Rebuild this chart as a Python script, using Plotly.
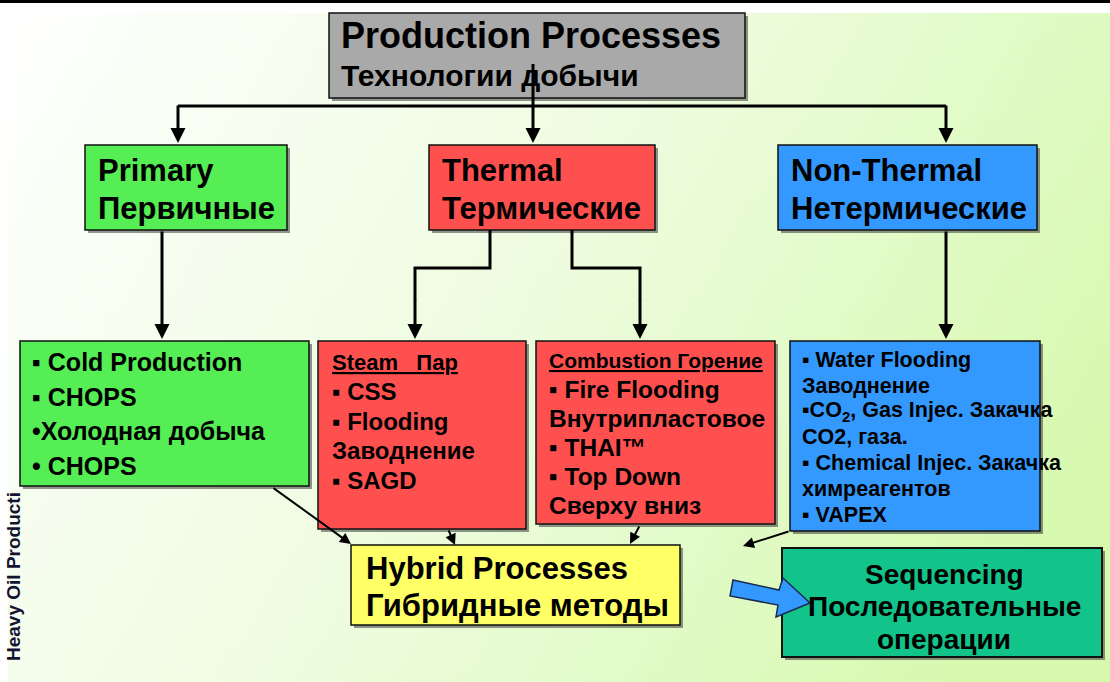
import numpy as np
import plotly.graph_objects as go

# ---------------- content ----------------
TITLE = ["Production Processes", "Технологии добычи"]
CATEGORIES = ["Primary", "Thermal", "Non-Thermal"]
CATEGORIES_RU = ["Первичные", "Термические", "Нетермические"]
PRIMARY_ITEMS = ["▪ Cold Production", "▪ CHOPS", "•Холодная добыча", "• CHOPS"]
STEAM_ITEMS = ["<span style='text-decoration:underline'>Steam   Пар</span>",
               "▪ CSS", "▪ Flooding", "Заводнение", "▪ SAGD"]
COMBUSTION_ITEMS = ["<span style='text-decoration:underline'>Combustion Горение</span>",
                    "▪ Fire Flooding", "Внутрипластовое", "▪ THAI™", "▪ Top Down", "Сверху вниз"]
NONTHERMAL_ITEMS = ["▪ Water Flooding", "Заводнение", "▪CO<sub>2</sub>, Gas Injec. Закачка",
                    "CO2, газа.", "▪ Chemical Injec. Закачка", "химреагентов", "▪ VAPEX"]
HYBRID = ["Hybrid Processes", "Гибридные методы"]
SEQUENCING = ["Sequencing", "Последовательные", "операции"]
SIDE_LABEL = "Heavy Oil Producti"

# ---------------- styles ----------------
W, H = 1110, 682
GRAY, GREEN, RED, BLUE = "#a9a9a9", "#55ee55", "#ff5050", "#3399ff"
YELLOW, TEAL = "#ffff66", "#12c48a"
FONT = "Liberation Sans, Arial, sans-serif"

fig = go.Figure()

# background gradient (white -> light green)
gx = np.linspace(0, W, 120)
gy = np.linspace(0, H, 80)
GX, GY = np.meshgrid(gx, gy)
gz = np.clip(0.8 * GX / W + 0.3 * GY / H, 0, 1)
fig.add_trace(go.Heatmap(x=gx, y=gy, z=gz, showscale=False, hoverinfo="skip",
                         colorscale=[[0, "#ffffff"], [0.5, "#eefce0"], [1, "#d6f9ae"]]))

shapes = []
annotations = []

# white frame strips and black top bar
shapes.append(dict(type="rect", x0=0, x1=W, y0=0, y1=13, fillcolor="white", line_width=0))
shapes.append(dict(type="rect", x0=0, x1=8, y0=0, y1=H, fillcolor="white", line_width=0))
shapes.append(dict(type="rect", x0=0, x1=W, y0=0, y1=3, fillcolor="black", line_width=0))


def box(x0, y0, x1, y1, color, lw=1.5):
    shapes.append(dict(type="rect", x0=x0 + 3, x1=x1 + 3, y0=y0 + 3, y1=y1 + 3,
                       fillcolor="rgba(60,60,60,0.55)", line_width=0))
    shapes.append(dict(type="rect", x0=x0, x1=x1, y0=y0, y1=y1, fillcolor=color,
                       line=dict(color="#111111", width=lw)))


def txt(x, y, s, size, xanchor="left", color="black", angle=0):
    annotations.append(dict(x=x, y=y, text="<b>" + s + "</b>", showarrow=False,
                            xanchor=xanchor, yanchor="middle", textangle=angle,
                            font=dict(size=size, family=FONT, color=color)))


def line(pts, width=3):
    path = "M " + " L ".join(f"{x},{y}" for x, y in pts)
    shapes.append(dict(type="path", path=path, line=dict(color="black", width=width)))


def arrow(x0, y0, x1, y1, width=3, head=2, size=1.0):
    annotations.append(dict(x=x1, y=y1, ax=x0, ay=y0, xref="x", yref="y", axref="x", ayref="y",
                            text="", showarrow=True, arrowhead=head, arrowwidth=width,
                            arrowsize=size, arrowcolor="black"))


# side label (partially hidden behind the boxes in the original)
txt(13, 577, SIDE_LABEL, 19, xanchor="center", color="#141432", angle=-90)

# top box
box(329, 13, 745, 98, GRAY)
txt(339, 35, TITLE[0], 36)
txt(339, 75, TITLE[1], 30)

# connectors from top
line([(178, 106), (946, 106)])
line([(533, 64), (533, 106)])
for cx in (178, 533, 946):
    arrow(cx, 104, cx, 143)

# category boxes
cat_pos = [(85, 287), (429, 655), (778, 1037)]
cat_col = [GREEN, RED, BLUE]
for (x0, x1), c, en, ru in zip(cat_pos, cat_col, CATEGORIES, CATEGORIES_RU):
    box(x0, 145, x1, 230, c)
    txt(x0 + 11, 170, en, 31)
    txt(x0 + 11, 208, ru, 31)

# arrows to sub boxes
arrow(162, 230, 162, 339)
line([(490, 230), (490, 268), (415, 268), (415, 300)])
arrow(415, 298, 415, 339)
line([(572, 230), (572, 268), (640, 268), (640, 300)])
arrow(640, 298, 640, 339)
arrow(946, 230, 946, 339)

# thin arrows to hybrid
arrow(272, 487, 351, 544, width=2, head=2, size=1.1)
arrow(448, 529, 455, 545, width=2, head=2, size=1.1)
arrow(640, 525, 630, 544, width=2, head=2, size=1.1)
arrow(790, 531, 743, 546, width=2, head=2, size=1.1)

# sub boxes
box(20, 341, 309, 486, GREEN)
for i, s in enumerate(PRIMARY_ITEMS):
    txt(30, 362 + i * 34.5, s, 25)

box(318, 341, 526, 529, RED)
for i, s in enumerate(STEAM_ITEMS):
    txt(330, 362 + i * 29.5, s, 24 if i else 22)

box(536, 341, 775, 524, RED)
for i, s in enumerate(COMBUSTION_ITEMS):
    txt(547, 360 + i * 29, s, 24.5 if i else 21)

box(790, 341, 1040, 531, BLUE)
for i, s in enumerate(NONTHERMAL_ITEMS):
    txt(800, 360 + i * 25.8, s, 21.5)

# hybrid & sequencing
box(351, 545, 680, 625, YELLOW)
txt(364, 568, HYBRID[0], 31)
txt(364, 605, HYBRID[1], 31)

box(782, 548, 1102, 657, TEAL, lw=2)
for i, s in enumerate(SEQUENCING):
    txt(944, 574 + i * 32.5, s, 28, xanchor="center")

# block arrow
shapes.append(dict(type="path",
                   path="M 733,580 L 779,590 L 783,578 L 810,603 L 776,617 L 778,605 L 730,596 Z",
                   fillcolor=BLUE, line=dict(color="#1a2a50", width=1.5)))

fig.update_layout(
    width=W, height=H, margin=dict(l=0, r=0, t=0, b=0),
    paper_bgcolor="white", plot_bgcolor="white",
    xaxis=dict(range=[0, W], visible=False, fixedrange=True),
    yaxis=dict(range=[H, 0], visible=False, fixedrange=True),
    shapes=shapes, annotations=annotations, showlegend=False,
)
fig.write_html("out.html", config={"displayModeBar": False},
               post_script="document.body.style.margin='0';")
